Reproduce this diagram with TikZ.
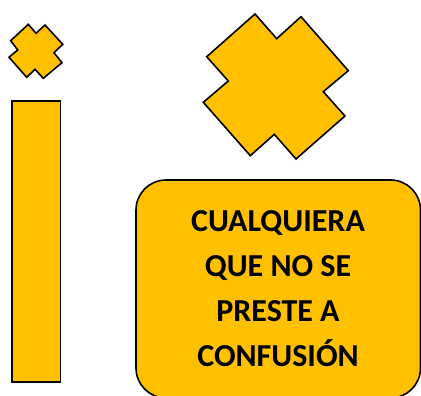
\documentclass[tikz,border=0pt]{standalone}
\usepackage{fontspec}
\setmainfont{Carlito}
\definecolor{gold}{HTML}{FFC000}
\begin{document}
\begin{tikzpicture}[x=1pt,y=-1pt,
  goldshape/.style={fill=gold,draw=black,line width=1.6pt,line join=miter},
  boxtext/.style={align=center,font=\bfseries\fontsize{32}{45}\selectfont,inner sep=0pt}]
\useasboundingbox (0,0) rectangle (421,396);
\begin{scope}
\clip (0,0) rectangle (421,396);
% small cross
\draw[goldshape] (28.3,24.3) -- (36,33.3) -- (45,25) -- (62.7,44.3) -- (54,52.7) -- (62,62.7) -- (43.3,78.3) -- (35,69.3) -- (26.7,77.3) -- (9,57.3) -- (17.7,50) -- (10.7,40.7) -- cycle;
% tall bar
\draw[goldshape] (11.7,101) rectangle (60.5,381.7);
% big cross
\draw[goldshape] (255,14) -- (276.7,38.7) -- (301,16.7) -- (348.3,70.7) -- (323.3,91.7) -- (345,116) -- (296,159) -- (274.3,134.3) -- (250.3,155.7) -- (203.3,102.3) -- (228.3,81) -- (206.7,56.7) -- cycle;
% rounded box
\draw[goldshape,rounded corners=30pt] (136,180) rectangle (420.5,398);
\node[boxtext] (label) at (278,289) {CUALQUIERA\\QUE NO SE\\PRESTE A\\CONFUSIÓN};
\end{scope}
\end{tikzpicture}
\end{document}
